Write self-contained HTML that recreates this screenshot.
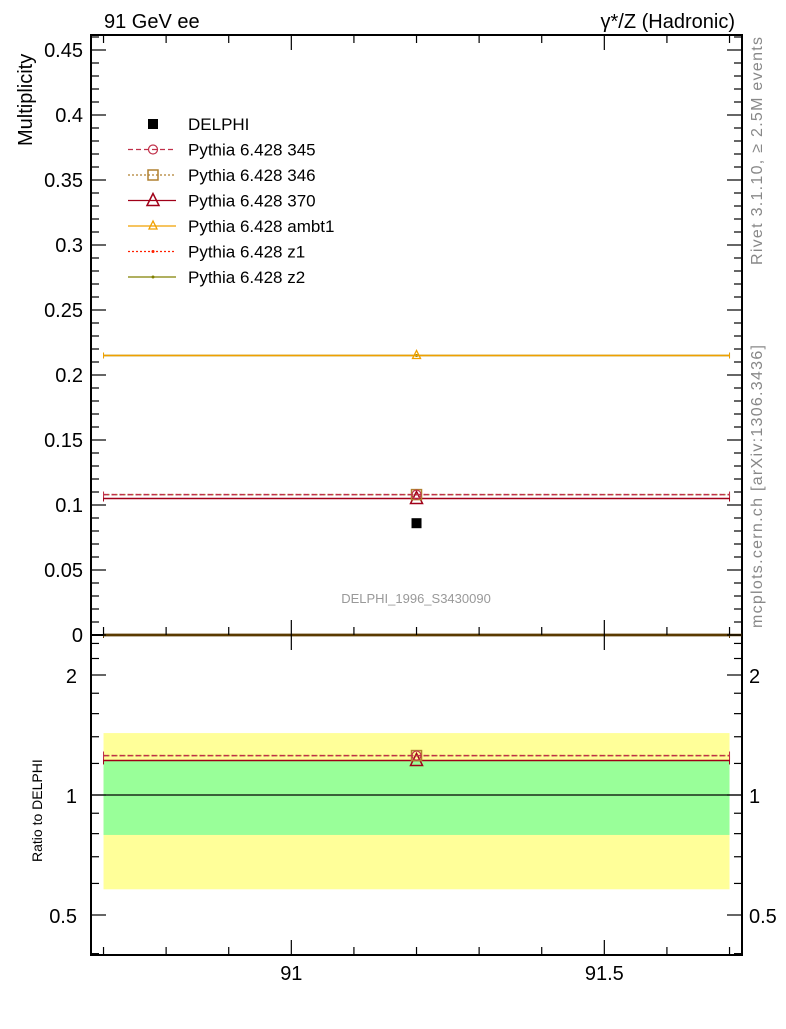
<!DOCTYPE html>
<html><head><meta charset="utf-8"><style>
body{margin:0;background:#fff;}
svg text{font-family:"Liberation Sans",sans-serif;}
</style></head><body>
<svg id="c" width="786" height="1024" xmlns="http://www.w3.org/2000/svg">
<text x="104" y="28" font-size="20">91 GeV ee</text>
<text x="735" y="28" font-size="20" text-anchor="end">γ*/Z (Hadronic)</text>
<text transform="translate(32,146) rotate(-90)" font-size="20">Multiplicity</text>
<text transform="translate(42,862) rotate(-90)" font-size="14">Ratio to DELPHI</text>
<text transform="translate(762,265) rotate(-90)" font-size="16" fill="#888" textLength="228">Rivet 3.1.10, ≥ 2.5M events</text>
<text transform="translate(762,628) rotate(-90)" font-size="16" fill="#888" textLength="283">mcplots.cern.ch [arXiv:1306.3436]</text>
<text x="416" y="603" font-size="13" fill="#999" text-anchor="middle">DELPHI_1996_S3430090</text>
<g id="main"></g><g id="ratio"></g><g id="legend"></g>
</svg>
<script>
const xEdges=[90.7,91.7];
const xCenter=[91.2];
const dataVals=[0.086];
const seriesNames=["Pythia 6.428 345","Pythia 6.428 346","Pythia 6.428 370","Pythia 6.428 ambt1","Pythia 6.428 z1","Pythia 6.428 z2"];
const seriesVals=[0.108,0.108,0.105,0.215,0,0.215];
const seriesColors=["#c0304a","#b08030","#a00018","#f0a000","#ff2000","#808000"];
const seriesDash=["5,3","2,2","","","2,2",""];
const seriesMarker=["circle","square","triangle","triangle-small","dot","dot"];
const mainTicks=[0,0.05,0.1,0.15,0.2,0.25,0.3,0.35,0.4,0.45];
const mainTickLabels=["0","0.05","0.1","0.15","0.2","0.25","0.3","0.35","0.4","0.45"];
const xTicks=[91,91.5];
const xTickLabels=["91","91.5"];
const ratioTicks=[0.5,1,2];
const ratioTickLabels=["0.5","1","2"];
const bandOuter=[0.58,1.43];
const bandInner=[0.794,1.22];

const L=91,R=742,T=35,B=635,RB=955;
const X=v=>L+(v-90.68)*626;
const Y=v=>B-v*1300;
const RY=v=>795-Math.log2(v)*120;
const NS="http://www.w3.org/2000/svg";
function mk(p,tag,a){const e=document.createElementNS(NS,tag);for(const k in a)e.setAttribute(k,a[k]);p.appendChild(e);return e;}
const c=document.getElementById('c'),main=document.getElementById('main'),ratio=document.getElementById('ratio'),leg=document.getElementById('legend');

let b1=mk(ratio,'rect',{x:X(xEdges[0]),y:RY(bandOuter[1]),width:X(xEdges[1])-X(xEdges[0]),height:RY(bandOuter[0])-RY(bandOuter[1]),fill:'#ffff99'});


let b2=mk(ratio,'rect',{x:X(xEdges[0]),y:RY(bandInner[1]),width:X(xEdges[1])-X(xEdges[0]),height:RY(bandInner[0])-RY(bandInner[1]),fill:'#99ff99'});


let one=mk(ratio,'line',{x1:L,x2:R,y1:RY(1),y2:RY(1),stroke:'#000','stroke-width':1.2});



function marker(g,type,x,y,col){
 if(type==='circle')mk(g,'circle',{cx:x,cy:y,r:4.5,fill:'none',stroke:col,'stroke-width':1.2});
 else if(type==='square')mk(g,'rect',{x:x-5,y:y-5,width:10,height:10,fill:'none',stroke:col,'stroke-width':1.5});
 else if(type==='triangle')mk(g,'polygon',{points:`${x},${y-7} ${x-6},${y+5} ${x+6},${y+5}`,fill:'none',stroke:col,'stroke-width':1.5});
 else if(type==='triangle-small')mk(g,'polygon',{points:`${x},${y-5} ${x-4},${y+3} ${x+4},${y+3}`,fill:'none',stroke:col,'stroke-width':1.3});
 else mk(g,'circle',{cx:x,cy:y,r:1.5,fill:col});
}
for(let i=seriesVals.length-1;i>=0;i--){
 const g=mk(main,'g',{});
 
 
 const y=Y(seriesVals[i]);
 const col=seriesVals[i]===0?'#5a3a00':seriesColors[i];
 mk(g,'line',{x1:X(xEdges[0]),x2:X(xEdges[1]),y1:y,y2:y,stroke:col,'stroke-width':seriesVals[i]===0?2.5:1.5,'stroke-dasharray':seriesVals[i]===0?'':seriesDash[i]});
 mk(g,'line',{x1:X(xEdges[0]),x2:X(xEdges[0]),y1:y-3,y2:y+3,stroke:col});
 mk(g,'line',{x1:X(xEdges[1]),x2:X(xEdges[1]),y1:y-3,y2:y+3,stroke:col});
 marker(g,seriesMarker[i],X(xCenter[0]),y,seriesVals[i]===0?'#f0a000':seriesColors[i]);
 const r=seriesVals[i]/dataVals[0];
 if(r<2.5&&r>0.4){
  const rg=mk(ratio,'g',{});
  
  
  const ry=RY(r);
  mk(rg,'line',{x1:X(xEdges[0]),x2:X(xEdges[1]),y1:ry,y2:ry,stroke:seriesColors[i],'stroke-width':1.5,'stroke-dasharray':seriesDash[i]});
  mk(rg,'line',{x1:X(xEdges[0]),x2:X(xEdges[0]),y1:ry-4,y2:ry+4,stroke:seriesColors[i]});
  mk(rg,'line',{x1:X(xEdges[1]),x2:X(xEdges[1]),y1:ry-4,y2:ry+4,stroke:seriesColors[i]});
  marker(rg,seriesMarker[i],X(xCenter[0]),ry,seriesColors[i]);
 }
}
const dp=mk(main,'rect',{x:X(xCenter[0])-5,y:Y(dataVals[0])-5,width:10,height:10,fill:'#000'});



let f1=mk(c,'rect',{x:L,y:T,width:R-L,height:B-T,fill:'none',stroke:'#000','stroke-width':2});


let f2=mk(c,'rect',{x:L,y:B,width:R-L,height:RB-B,fill:'none',stroke:'#000','stroke-width':2});


let zl=mk(c,'line',{x1:X(xEdges[0]),x2:R,y1:B,y2:B,stroke:'#5a3a00','stroke-width':2.5});



const ax=mk(c,'g',{stroke:'#000','stroke-width':1.2});


for(let k=0;k<=46;k++){const v=k/100,y=Y(v);const maj=k%5===0;const l=maj?15:8;
 mk(ax,'line',{x1:L,x2:L+l,y1:y,y2:y});mk(ax,'line',{x1:R-l,x2:R,y1:y,y2:y});}
mainTicks.forEach((v,i)=>{const t=mk(c,'text',{x:L-8,y:Y(v)+7,'font-size':20,'text-anchor':'end'});t.textContent=mainTickLabels[i];
 
 });
for(let k=0;k<=10;k++){const v=90.7+k*0.1;const x=X(v);const maj=Math.abs(v-91)<1e-6||Math.abs(v-91.5)<1e-6;const l=maj?15:8;
 [B,RB].forEach(yb=>mk(ax,'line',{x1:x,x2:x,y1:yb,y2:yb-l}));
 mk(ax,'line',{x1:x,x2:x,y1:T,y2:T+l});
 if(maj)mk(ax,'line',{x1:x,x2:x,y1:B,y2:B+l});}
xTicks.forEach((v,i)=>{const t=mk(c,'text',{x:X(v),y:980,'font-size':20,'text-anchor':'middle'});t.textContent=xTickLabels[i];
 
 });
[0.4,0.6,0.7,0.8,0.9,1.2,1.4,1.6,1.8,2.2,2.4].forEach(v=>{const y=RY(v);mk(ax,'line',{x1:L,x2:L+8,y1:y,y2:y});mk(ax,'line',{x1:R-8,x2:R,y1:y,y2:y});});
ratioTicks.forEach((v,i)=>{const y=RY(v);mk(ax,'line',{x1:L,x2:L+15,y1:y,y2:y});mk(ax,'line',{x1:R-15,x2:R,y1:y,y2:y});
 const t=mk(c,'text',{x:L-14,y:y+8,'font-size':20,'text-anchor':'end'});t.textContent=ratioTickLabels[i];
 
 
 const t2=mk(c,'text',{x:R+7,y:y+8,'font-size':20});t2.textContent=ratioTickLabels[i];
 
 });

const lx=128,ly=124,dy=25.5;
const dg=mk(leg,'g',{});


mk(dg,'rect',{x:148,y:ly-5,width:10,height:10,fill:'#000'});
const dt=mk(dg,'text',{x:188,y:ly+6,'font-size':17});dt.textContent='DELPHI';
seriesNames.forEach((n,i)=>{const y=ly+(i+1)*dy;const g=mk(leg,'g',{});
 
 
 mk(g,'line',{x1:lx,x2:lx+48,y1:y,y2:y,stroke:seriesColors[i],'stroke-width':1.3,'stroke-dasharray':seriesDash[i]});
 marker(g,seriesMarker[i],153,y,seriesColors[i]);
 const t=mk(g,'text',{x:188,y:y+6,'font-size':17});t.textContent=n;});
</script>
</body></html>
